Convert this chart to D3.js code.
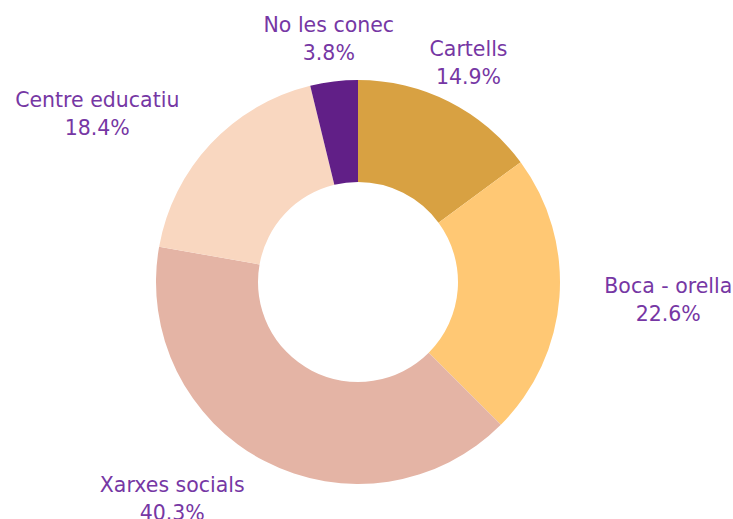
<!DOCTYPE html>
<html><head><meta charset="utf-8">
<script src="https://cdn.jsdelivr.net/npm/d3@7"></script>
<style>html,body{margin:0;padding:0;background:#fff;}</style>
</head><body>
<svg id="chart" width="733" height="519"></svg>
<script>
const categories = ["Cartells", "Boca - orella", "Xarxes socials", "Centre educatiu", "No les conec"];
const values = [14.9, 22.6, 40.3, 18.4, 3.8];
const valueLabels = ["14.9%", "22.6%", "40.3%", "18.4%", "3.8%"];
const colors = ["#D8A142", "#FFC874", "#E4B4A5", "#F9D7C0", "#611F87"];

const W = 733, H = 519, cx = 358, cy = 282, outerR = 202, innerR = 100, labelR = 245;
const svg = d3.select("#chart");
const g = svg.append("g").attr("transform", `translate(${cx},${cy})`);
const data = categories.map((c, i) => ({cat: c, value: values[i], label: valueLabels[i], color: colors[i]}));
const pie = d3.pie().value(d => d.value).sort(null);
const arc = d3.arc().innerRadius(innerR).outerRadius(outerR);
const arcs = pie(data);

g.selectAll("path").data(arcs).join("path")
  .attr("d", arc).attr("fill", d => d.data.color);

const lab = g.selectAll("text.lbl").data(arcs).join("text")
  .attr("class", "lbl")
  .style("font-family", "'DejaVu Sans', sans-serif")
  .style("font-size", "20.5px")
  .attr("fill", "#7637A4")
  .each(function(d) {
    const a = (d.startAngle + d.endAngle) / 2;
    const s = Math.sin(a), c = Math.cos(a);
    const x = labelR * s, y = -labelR * c;
    let anchor = "middle";
    if (c <= 0.85) anchor = s > 0 ? "start" : "end";
    const t = d3.select(this).attr("text-anchor", anchor);
    t.append("tspan").attr("x", x + (anchor === "start" ? 2 : 0)).attr("y", y - 7).text(d.data.cat);
    t.append("tspan").attr("x", x + (anchor === "start" ? 2 : 0)).attr("y", y + 21).text(d.data.label);
  });
// second line centred under first line
lab.each(function() {
  const t = d3.select(this);
  const first = t.select("tspan").node();
  const bb = first.getBBox();
  const mid = bb.x + bb.width / 2;
  t.selectAll("tspan").attr("x", mid);
  t.attr("text-anchor", "middle");
});
</script>
</body></html>
